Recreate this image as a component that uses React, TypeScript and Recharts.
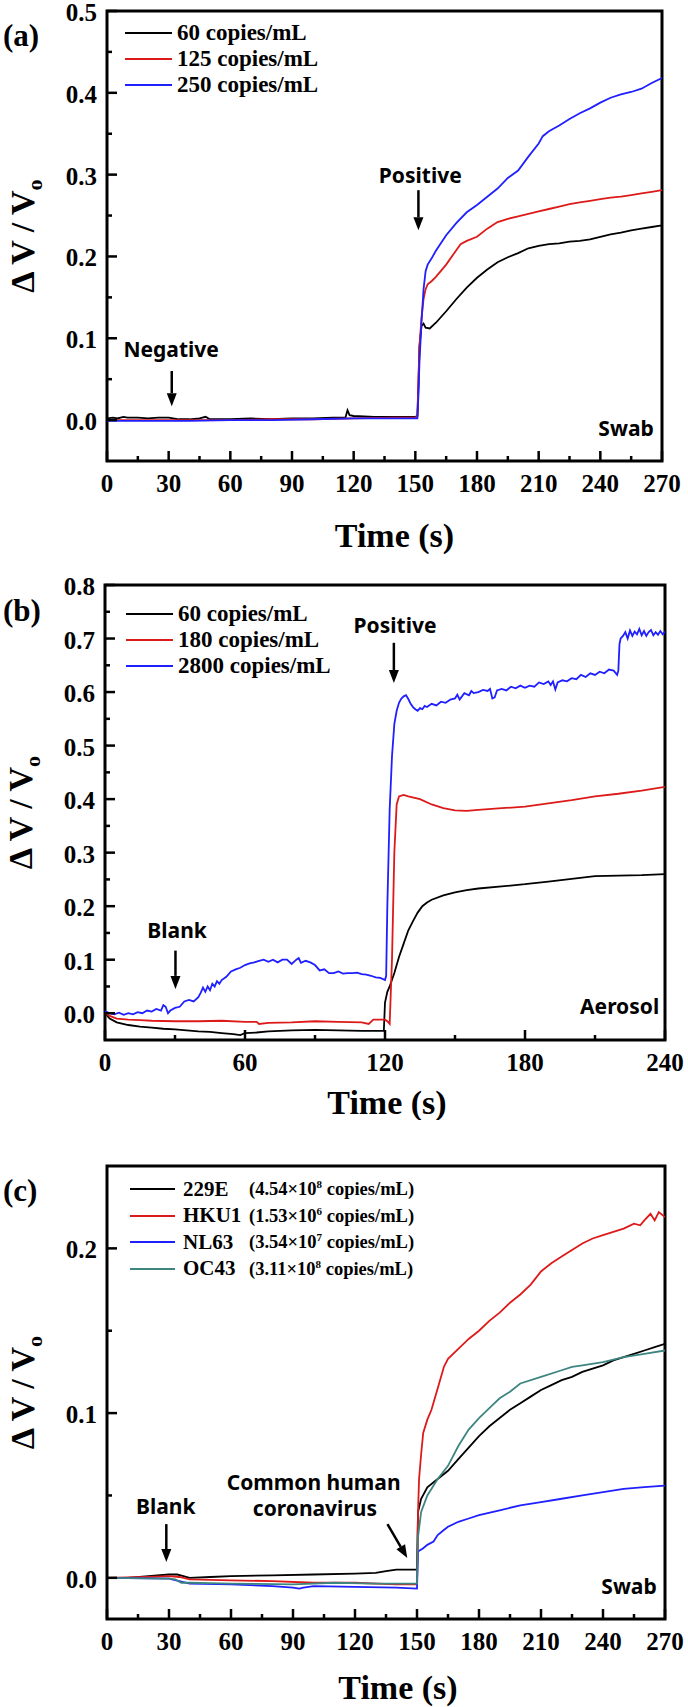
import React from "react";
import {
  LineChart,
  Line,
  XAxis,
  YAxis,
  Legend,
  ReferenceArea,
  ReferenceLine,
  ReferenceDot,
} from "recharts";

type Pt = [number, number];

// ---- panel (a): swab, 3 concentrations ----
const swabNames = ["60 copies/mL", "125 copies/mL", "250 copies/mL"];
const swabColors = ["#000000", "#dd1a1a", "#1f1fff"];
const swab60: Pt[] = [
  [0, 0.002], [3, 0.003], [5, 0.002], [8, 0.004], [10, 0.003], [15, 0.003], [20, 0.002],
  [25, 0.003], [30, 0.003], [35, 0.001], [40, 0.001], [45, 0.002], [48, 0.004], [50, 0.001],
  [60, 0.001], [70, 0.002], [80, 0.001], [90, 0.002], [100, 0.002], [110, 0.003], [116, 0.003],
  [117, 0.012], [118, 0.006], [120, 0.005], [130, 0.004], [140, 0.004], [150, 0.004],
  [151, 0.005], [151.5, 0.04], [152, 0.09], [153, 0.115], [154, 0.118], [155, 0.113],
  [157, 0.112], [160, 0.119], [165, 0.133], [170, 0.148], [175, 0.162], [180, 0.174],
  [185, 0.184], [190, 0.193], [195, 0.199], [200, 0.204], [205, 0.21], [210, 0.213],
  [215, 0.215], [220, 0.216], [225, 0.218], [230, 0.219], [235, 0.221], [240, 0.224],
  [245, 0.227], [250, 0.229], [255, 0.232], [260, 0.234], [265, 0.236], [270, 0.238],
];
const swab125: Pt[] = [
  [0, 0.0], [20, 0.0], [40, 0.0], [60, 0.0], [80, 0.001], [100, 0.001], [120, 0.002],
  [140, 0.003], [150, 0.003], [151, 0.005], [151.5, 0.05], [152, 0.09], [153, 0.125],
  [154, 0.148], [155, 0.16], [156, 0.166], [158, 0.17], [160, 0.175], [165, 0.19],
  [170, 0.208], [172, 0.215], [175, 0.219], [180, 0.224], [185, 0.234], [190, 0.242],
  [195, 0.246], [200, 0.249], [205, 0.252], [210, 0.255], [215, 0.258], [220, 0.261],
  [225, 0.264], [230, 0.266], [235, 0.268], [240, 0.27], [245, 0.272], [250, 0.273],
  [255, 0.275], [260, 0.277], [265, 0.279], [270, 0.281],
];
const swab250: Pt[] = [
  [0, -0.001], [20, -0.001], [40, -0.001], [60, 0.0], [80, 0.0], [100, 0.001], [120, 0.002],
  [140, 0.002], [151, 0.002], [151.5, 0.03], [152, 0.07], [153, 0.12], [154, 0.16],
  [155, 0.182], [156, 0.19], [158, 0.198], [160, 0.207], [165, 0.226], [170, 0.241],
  [175, 0.254], [180, 0.263], [185, 0.273], [190, 0.283], [195, 0.296], [200, 0.305],
  [205, 0.322], [210, 0.338], [212, 0.347], [215, 0.353], [220, 0.36], [225, 0.368],
  [230, 0.375], [235, 0.381], [240, 0.388], [245, 0.394], [250, 0.398], [255, 0.401],
  [260, 0.405], [265, 0.412], [270, 0.418],
];
const swabXTicks = [0, 15, 30, 45, 60, 75, 90, 105, 120, 135, 150, 165, 180, 195, 210, 225, 240, 255, 270];
const swabYTicks = [0, 0.05, 0.1, 0.15, 0.2, 0.25, 0.3, 0.35, 0.4, 0.45, 0.5];

// ---- panel (b): aerosol ----
const aeroNames = ["60 copies/mL", "180 copies/mL", "2800 copies/mL"];
const aeroColors = ["#000000", "#dd1a1a", "#1f1fff"];
const aero60: Pt[] = [
  [0, 0.0], [2, -0.01], [5, -0.017], [10, -0.022], [15, -0.025], [20, -0.027], [25, -0.029],
  [30, -0.03], [35, -0.032], [40, -0.034], [45, -0.035], [50, -0.037], [55, -0.039],
  [58, -0.041], [60, -0.037], [65, -0.036], [70, -0.034], [80, -0.032], [90, -0.031],
  [100, -0.032], [110, -0.033], [119.5, -0.033], [120, 0.02], [121, 0.04], [122, 0.05],
  [124, 0.075], [126, 0.105], [128, 0.13], [130, 0.155], [132, 0.172], [134, 0.188],
  [136, 0.2], [138, 0.207], [140, 0.212], [145, 0.22], [150, 0.226], [155, 0.23],
  [160, 0.233], [170, 0.237], [180, 0.241], [190, 0.246], [200, 0.251], [210, 0.256],
  [220, 0.257], [230, 0.258], [240, 0.26],
];
const aero180: Pt[] = [
  [0, 0.0], [2, -0.005], [5, -0.01], [10, -0.012], [15, -0.013], [20, -0.014], [30, -0.015],
  [40, -0.015], [50, -0.014], [60, -0.016], [65, -0.016], [66, -0.02], [70, -0.018],
  [80, -0.017], [90, -0.015], [100, -0.016], [110, -0.017], [113, -0.02], [115, -0.012],
  [120, -0.012], [121, -0.015], [122, -0.02], [123, 0.1], [124, 0.3], [125, 0.39],
  [126, 0.405], [128, 0.408], [130, 0.405], [135, 0.4], [140, 0.39], [145, 0.383],
  [150, 0.379], [155, 0.378], [160, 0.38], [170, 0.383], [180, 0.386], [190, 0.392],
  [200, 0.398], [210, 0.405], [220, 0.41], [230, 0.416], [240, 0.423],
];
const aero2800: Pt[] = [
  [0, 0.004], [2, 0.0], [4, -0.002], [6, 0.001], [8, -0.003], [10, 0.0], [12, -0.002],
  [14, 0.002], [16, 0.0], [18, 0.005], [20, 0.003], [22, 0.008], [24, 0.005], [25, 0.015],
  [26, 0.012], [27, 0.0], [28, 0.005], [30, 0.01], [32, 0.012], [34, 0.022], [36, 0.025],
  [38, 0.022], [40, 0.03], [41, 0.038], [42, 0.048], [43, 0.04], [44, 0.05], [45, 0.043],
  [46, 0.055], [47, 0.05], [48, 0.06], [49, 0.055], [50, 0.062], [52, 0.068], [54, 0.078],
  [56, 0.082], [58, 0.085], [60, 0.09], [62, 0.093], [64, 0.095], [66, 0.098], [68, 0.1],
  [70, 0.096], [72, 0.1], [74, 0.095], [76, 0.1], [78, 0.1], [80, 0.092], [82, 0.1],
  [83, 0.103], [84, 0.094], [86, 0.098], [88, 0.095], [90, 0.09], [92, 0.08], [94, 0.082],
  [96, 0.075], [98, 0.075], [100, 0.078], [102, 0.074], [104, 0.075], [106, 0.075],
  [108, 0.076], [110, 0.073], [112, 0.072], [114, 0.07], [116, 0.067], [118, 0.066],
  [120, 0.062], [120.5, 0.07], [121, 0.2], [122, 0.38], [123, 0.48], [124, 0.54],
  [125, 0.565], [126, 0.58], [127, 0.588], [128, 0.592], [129, 0.594], [130, 0.587],
  [131, 0.578], [132, 0.572], [133, 0.568], [134, 0.565], [135, 0.57], [136, 0.568],
  [137, 0.574], [138, 0.572], [140, 0.578], [142, 0.575], [144, 0.582], [146, 0.58],
  [148, 0.586], [150, 0.588], [151, 0.595], [152, 0.586], [154, 0.598], [156, 0.594],
  [157, 0.602], [158, 0.598], [160, 0.6], [162, 0.604], [164, 0.602], [165, 0.606],
  [166, 0.588], [167, 0.59], [168, 0.603], [170, 0.606], [172, 0.603], [174, 0.61],
  [176, 0.607], [178, 0.612], [180, 0.608], [182, 0.612], [184, 0.61], [186, 0.618],
  [188, 0.615], [190, 0.62], [191, 0.613], [192, 0.62], [193, 0.605], [194, 0.618],
  [196, 0.622], [198, 0.62], [200, 0.626], [202, 0.624], [204, 0.632], [206, 0.628],
  [208, 0.635], [210, 0.632], [212, 0.638], [214, 0.635], [216, 0.642], [218, 0.64],
  [219.5, 0.632], [220, 0.64], [220.5, 0.69], [221, 0.7], [222, 0.705], [223, 0.712],
  [224, 0.7], [225, 0.715], [226, 0.705], [227, 0.713], [228, 0.708], [229, 0.718],
  [230, 0.706], [231, 0.714], [232, 0.705], [233, 0.712], [234, 0.716], [235, 0.706],
  [236, 0.712], [237, 0.707], [238, 0.714], [239, 0.708], [240, 0.713],
];
const aeroXTicks = [0, 30, 60, 90, 120, 150, 180, 210, 240];
const aeroYTicks = [0, 0.05, 0.1, 0.15, 0.2, 0.25, 0.3, 0.35, 0.4, 0.45, 0.5, 0.55, 0.6, 0.65, 0.7, 0.75, 0.8];

// ---- panel (c): common human coronavirus ----
const hcovNames = ["229E", "HKU1", "NL63", "OC43"];
const hcovConc = ["4.54", "1.53", "3.54", "3.11"];
const hcovExp = ["8", "6", "7", "8"];
const hcovColors = ["#000000", "#dd1a1a", "#1f1fff", "#3d8580"];
const h229E: Pt[] = [
  [0, 0.0], [10, 0.0], [20, 0.001], [30, 0.002], [34, 0.002], [37, 0.001], [40, 0.0],
  [50, 0.0005], [60, 0.001], [80, 0.0015], [100, 0.002], [120, 0.0025], [130, 0.003],
  [135, 0.004], [140, 0.005], [150, 0.005], [150.5, 0.04], [152, 0.048], [155, 0.055],
  [160, 0.06], [165, 0.065], [170, 0.072], [175, 0.079], [180, 0.086], [185, 0.092],
  [190, 0.097], [195, 0.102], [200, 0.106], [205, 0.11], [210, 0.114], [215, 0.117],
  [220, 0.12], [225, 0.122], [230, 0.125], [235, 0.127], [240, 0.129], [245, 0.132],
  [250, 0.134], [255, 0.136], [260, 0.138], [265, 0.14], [270, 0.142],
];
const hHKU1: Pt[] = [
  [0, 0.0], [20, 0.0005], [30, 0.001], [35, 0.0005], [40, -0.001], [60, -0.0015],
  [80, -0.002], [100, -0.003], [120, -0.003], [140, -0.004], [150, -0.004], [150.5, 0.04],
  [151, 0.06], [152, 0.075], [153, 0.088], [155, 0.096], [157, 0.102], [160, 0.115],
  [163, 0.128], [165, 0.133], [170, 0.139], [175, 0.145], [180, 0.15], [185, 0.156],
  [190, 0.161], [195, 0.167], [200, 0.172], [205, 0.178], [210, 0.186], [215, 0.191],
  [220, 0.195], [225, 0.199], [230, 0.203], [235, 0.206], [240, 0.208], [245, 0.21],
  [250, 0.212], [255, 0.215], [258, 0.214], [260, 0.217], [263, 0.221], [265, 0.217],
  [267, 0.222], [270, 0.219],
];
const hNL63: Pt[] = [
  [0, 0.0], [30, -0.0005], [35, -0.002], [40, -0.0035], [60, -0.004], [80, -0.005],
  [90, -0.006], [93, -0.0065], [95, -0.006], [100, -0.005], [120, -0.0055], [140, -0.006],
  [150, -0.0065], [150.5, 0.016], [153, 0.018], [155, 0.02], [158, 0.022], [160, 0.026],
  [163, 0.029], [165, 0.031], [170, 0.034], [175, 0.036], [180, 0.038], [190, 0.041],
  [200, 0.044], [210, 0.046], [220, 0.048], [230, 0.05], [240, 0.052], [250, 0.054],
  [260, 0.055], [270, 0.056],
];
const hOC43: Pt[] = [
  [0, 0.0], [30, -0.0005], [33, -0.001], [36, -0.003], [40, -0.003], [60, -0.0035],
  [90, -0.004], [110, -0.003], [130, -0.0035], [150, -0.0035], [150.5, 0.025], [152, 0.04],
  [155, 0.05], [160, 0.06], [165, 0.068], [170, 0.08], [175, 0.09], [180, 0.097],
  [185, 0.103], [190, 0.109], [195, 0.113], [200, 0.118], [210, 0.122], [220, 0.126],
  [225, 0.128], [230, 0.129], [240, 0.131], [250, 0.134], [260, 0.136], [270, 0.138],
];
const hcovXTicks = swabXTicks;
const hcovYTicks = [0, 0.05, 0.1, 0.15, 0.2];

const rows = (pts: Pt[]) => pts.map(([t, v]) => ({ t, v }));

const serif = "'Liberation Serif', 'Times New Roman', serif";
const sans = "'Noto Sans', 'Open Sans', sans-serif";
const tickFont: React.CSSProperties = { fontFamily: serif, fontWeight: "bold", fontSize: 25 };

const makeXTick = (majorStep: number, labelDy: number) => (props: any) => {
  const { x, y, payload } = props;
  const v = payload.value as number;
  const major = v % majorStep === 0;
  return (
    <g>
      <line x1={x} x2={x} y1={y} y2={y - (major ? 10 : 5)} stroke="#000" strokeWidth={2.5} />
      {major && (
        <text x={x} y={y + labelDy} textAnchor="middle" fill="#000" style={tickFont}>
          {v}
        </text>
      )}
    </g>
  );
};

const YTick = (props: any) => {
  const { x, y, payload } = props;
  const v = payload.value as number;
  const major = Math.abs(v * 10 - Math.round(v * 10)) < 1e-6;
  return (
    <g>
      <line x1={x} x2={x + (major ? 10 : 5)} y1={y} y2={y} stroke="#000" strokeWidth={2.5} />
      {major && (
        <text x={x - 10} y={y + 10} textAnchor="end" fill="#000" style={tickFont}>
          {v.toFixed(1)}
        </text>
      )}
    </g>
  );
};

const YTitle = (props: any) => {
  const { viewBox } = props;
  const cx = viewBox.x + viewBox.width - 84;
  const cy = viewBox.y + viewBox.height / 2;
  return (
    <text
      transform={`translate(${cx},${cy}) rotate(-90)`}
      textAnchor="middle"
      dy={11}
      fill="#000"
      style={{ fontFamily: serif, fontWeight: "bold", fontSize: 34 }}
    >
      Δ V / V<tspan dy={8} fontSize={22}>o</tspan>
    </text>
  );
};

const makeXTitle = (dy: number, shift: number) => (props: any) => {
  const { viewBox } = props;
  return (
    <text
      x={viewBox.x + viewBox.width / 2 + shift}
      y={viewBox.y + dy}
      textAnchor="middle"
      fill="#000"
      style={{ fontFamily: serif, fontWeight: "bold", fontSize: 34 }}
    >
      Time (s)
    </text>
  );
};

const Arrow = (p: any) => {
  const { x1, y1, x2, y2 } = p;
  const dx = x2 - x1;
  const dy = y2 - y1;
  const len = Math.hypot(dx, dy) || 1;
  const ux = dx / len;
  const uy = dy / len;
  const hl = 13;
  const hw = 5;
  const bx = x2 - ux * hl;
  const by = y2 - uy * hl;
  return (
    <g>
      <line x1={x1} y1={y1} x2={bx} y2={by} stroke="#000" strokeWidth={2.5} />
      <polygon
        points={`${x2},${y2} ${bx - uy * hw},${by + ux * hw} ${bx + uy * hw},${by - ux * hw}`}
        fill="#000"
      />
    </g>
  );
};

const note = (text: string, x: number, y: number, anchor = "middle") => (
  <ReferenceDot
    key={text}
    x={x}
    y={y}
    r={0}
    ifOverflow="visible"
    shape={(p: any) => (
      <text
        x={p.cx}
        y={p.cy}
        dy={7}
        textAnchor={anchor}
        fill="#000"
        style={{ fontFamily: sans, fontWeight: "bold", fontSize: 21 }}
      >
        {text}
      </text>
    )}
  />
);

const arrow = (key: string, x1: number, y1: number, x2: number, y2: number) => (
  <ReferenceLine
    key={key}
    segment={[{ x: x1, y: y1 }, { x: x2, y: y2 }]}
    ifOverflow="visible"
    shape={Arrow}
  />
);

const SimpleLegend = ({ names, colors }: { names: string[]; colors: string[] }) => (
  <div style={{ fontFamily: serif, fontWeight: "bold", fontSize: 23, whiteSpace: "nowrap" }}>
    {names.map((n, i) => (
      <div key={n} style={{ display: "flex", alignItems: "center", height: 26 }}>
        <span style={{ display: "inline-block", width: 47, height: 2, background: colors[i], marginRight: 5 }} />
        <span>{n}</span>
      </div>
    ))}
  </div>
);

const HcovLegend = () => (
  <div style={{ fontFamily: serif, fontWeight: "bold", whiteSpace: "nowrap" }}>
    {hcovNames.map((n, i) => (
      <div key={n} style={{ display: "flex", alignItems: "center", height: 26.5 }}>
        <span style={{ display: "inline-block", width: 45, height: 2, background: hcovColors[i], marginRight: 8 }} />
        <span style={{ display: "inline-block", width: 66, fontSize: 21 }}>{n}</span>
        <span style={{ fontSize: 18.5 }}>
          ({hcovConc[i]}×10<sup style={{ fontSize: 11 }}>{hcovExp[i]}</sup> copies/mL)
        </span>
      </div>
    ))}
  </div>
);

const PanelLabel = ({ text, top }: { text: string; top: number }) => (
  <div
    style={{
      position: "absolute",
      left: 3,
      top,
      fontFamily: serif,
      fontWeight: "bold",
      fontSize: 31,
      lineHeight: "31px",
    }}
  >
    {text}
  </div>
);

const frame = (x1: number, x2: number, y1: number, y2: number) => (
  <ReferenceArea x1={x1} x2={x2} y1={y1} y2={y2} fill="none" stroke="#000" strokeWidth={3} />
);

const App = () => {
  return (
    <div style={{ position: "absolute", left: 0, top: 0, width: 688, height: 1707, background: "#fff" }}>
      {/* (a) swab */}
      <div style={{ position: "absolute", left: 0, top: 0 }}>
        <LineChart width={688} height={560} margin={{ top: 11, right: 26, bottom: 98, left: 106 }}>
          <XAxis
            dataKey="t"
            type="number"
            domain={[0, 270]}
            ticks={swabXTicks}
            interval={0}
            allowDataOverflow
            height={1}
            axisLine={false}
            tickLine={false}
            tickSize={0}
            tickMargin={0}
            tick={makeXTick(30, 31)}
            label={makeXTitle(86, 10)}
          />
          <YAxis
            type="number"
            domain={[-0.05, 0.5]}
            ticks={swabYTicks}
            interval={0}
            allowDataOverflow
            width={1}
            axisLine={false}
            tickLine={false}
            tickSize={0}
            tickMargin={0}
            tick={YTick}
            label={YTitle}
          />
          {frame(0, 270, -0.05, 0.5)}
          {[swab60, swab125, swab250].map((s, i) => (
            <Line
              key={swabNames[i]}
              data={rows(s)}
              dataKey="v"
              name={swabNames[i]}
              type="linear"
              stroke={swabColors[i]}
              strokeWidth={1.8}
              dot={false}
              isAnimationActive={false}
            />
          ))}
          {note("Positive", 152.4, 0.298)}
          {arrow("pa", 151.5, 0.281, 151.5, 0.232)}
          {note("Negative", 31.2, 0.0857)}
          {arrow("na", 31.5, 0.06, 31.5, 0.017)}
          {note("Swab", 266, -0.011, "end")}
          <Legend
            layout="vertical"
            align="center"
            verticalAlign="middle"
            wrapperStyle={{ left: 125, top: 20, width: "auto" }}
            content={() => <SimpleLegend names={swabNames} colors={swabColors} />}
          />
        </LineChart>
        <PanelLabel text="(a)" top={20} />
      </div>

      {/* (b) aerosol */}
      <div style={{ position: "absolute", left: 0, top: 560 }}>
        <LineChart width={688} height={560} margin={{ top: 25, right: 23, bottom: 79, left: 104 }}>
          <XAxis
            dataKey="t"
            type="number"
            domain={[0, 240]}
            ticks={aeroXTicks}
            interval={0}
            allowDataOverflow
            height={1}
            axisLine={false}
            tickLine={false}
            tickSize={0}
            tickMargin={0}
            tick={makeXTick(60, 31)}
            label={makeXTitle(74, 2)}
          />
          <YAxis
            type="number"
            domain={[-0.05, 0.8]}
            ticks={aeroYTicks}
            interval={0}
            allowDataOverflow
            width={1}
            axisLine={false}
            tickLine={false}
            tickSize={0}
            tickMargin={0}
            tick={YTick}
            label={YTitle}
          />
          {frame(0, 240, -0.05, 0.8)}
          {[aero60, aero180, aero2800].map((s, i) => (
            <Line
              key={aeroNames[i]}
              data={rows(s)}
              dataKey="v"
              name={aeroNames[i]}
              type="linear"
              stroke={aeroColors[i]}
              strokeWidth={1.8}
              dot={false}
              isAnimationActive={false}
            />
          ))}
          {note("Positive", 124.3, 0.723)}
          {arrow("pb", 123.8, 0.692, 123.8, 0.617)}
          {note("Blank", 30.9, 0.154)}
          {arrow("bb", 30.2, 0.117, 30.2, 0.0455)}
          {note("Aerosol", 237.5, 0.012, "end")}
          <Legend
            layout="vertical"
            align="center"
            verticalAlign="middle"
            wrapperStyle={{ left: 126, top: 41, width: "auto" }}
            content={() => <SimpleLegend names={aeroNames} colors={aeroColors} />}
          />
        </LineChart>
        <PanelLabel text="(b)" top={35} />
      </div>

      {/* (c) common human coronavirus */}
      <div style={{ position: "absolute", left: 0, top: 1120 }}>
        <LineChart width={688} height={587} margin={{ top: 46, right: 23, bottom: 87, left: 106 }}>
          <XAxis
            dataKey="t"
            type="number"
            domain={[0, 270]}
            ticks={hcovXTicks}
            interval={0}
            allowDataOverflow
            height={1}
            axisLine={false}
            tickLine={false}
            tickSize={0}
            tickMargin={0}
            tick={makeXTick(30, 31)}
            label={makeXTitle(80, 12)}
          />
          <YAxis
            type="number"
            domain={[-0.025, 0.25]}
            ticks={hcovYTicks}
            interval={0}
            allowDataOverflow
            width={1}
            axisLine={false}
            tickLine={false}
            tickSize={0}
            tickMargin={0}
            tick={YTick}
            label={YTitle}
          />
          {frame(0, 270, -0.025, 0.25)}
          {[h229E, hHKU1, hNL63, hOC43].map((s, i) => (
            <Line
              key={hcovNames[i]}
              data={rows(s)}
              dataKey="v"
              name={hcovNames[i]}
              type="linear"
              stroke={hcovColors[i]}
              strokeWidth={1.8}
              dot={false}
              isAnimationActive={false}
            />
          ))}
          {note("Common human", 100, 0.0574)}
          {note("coronavirus", 100.6, 0.0417)}
          {arrow("ca", 135.7, 0.0326, 145.3, 0.012)}
          {note("Blank", 28.4, 0.0429)}
          {arrow("cb", 28.7, 0.0326, 28.7, 0.0096)}
          {note("Swab", 266, -0.0056, "end")}
          <Legend
            layout="vertical"
            align="center"
            verticalAlign="middle"
            wrapperStyle={{ left: 130, top: 56, width: "auto" }}
            content={() => <HcovLegend />}
          />
        </LineChart>
        <PanelLabel text="(c)" top={55} />
      </div>
    </div>
  );
};

export default App;
